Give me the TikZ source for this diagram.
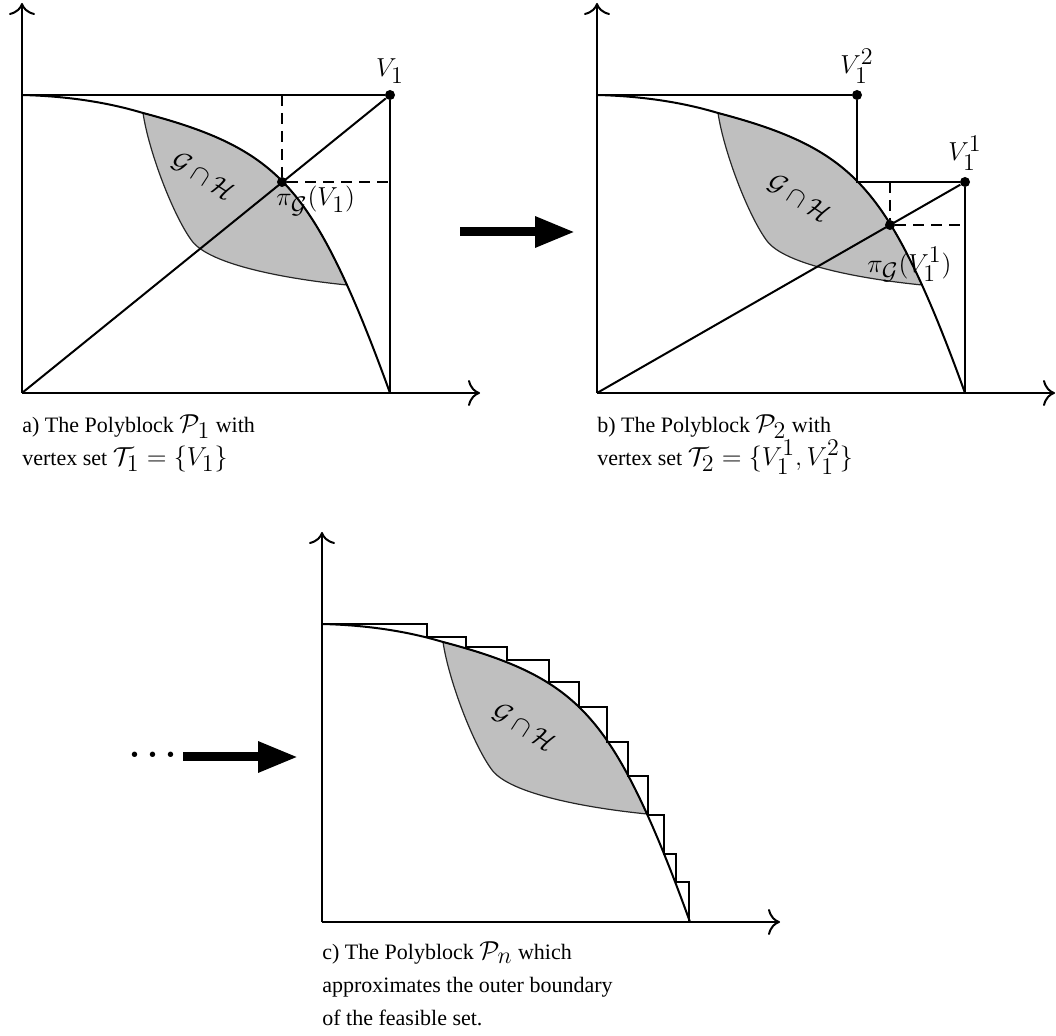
\RequirePackage{fix-cm}
\documentclass[tikz,border=0pt]{standalone}
\usepackage[no-math]{fontspec}
\setmainfont{Liberation Serif}
\usepackage{tikz}
\usetikzlibrary{arrows.meta, positioning}
\DeclareMathSizes{13}{13}{12}{10}
\definecolor{lensgray}{HTML}{BFBFBF}

\tikzset{
    frameline/.style={line width=1pt},
    axisline/.style={line width=1pt, -{Computer Modern Rightarrow[length=6pt, width=13pt]}},
    projline/.style={line width=1pt, dash pattern=on 5.5pt off 3.5pt},
    lensfill/.style={fill=lensgray, draw=black!85, line width=0.6pt},
    vtx/.style={circle, fill, inner sep=0pt, minimum size=5pt},
    mathlbl/.style={font=\fontsize{13}{15}\selectfont, inner sep=0pt},
    captxt/.style={font=\fontsize{11}{16.5}\selectfont, align=left, anchor=north west, inner sep=0pt},
    bigarrow/.style={line width=4.5pt, -{Triangle[length=20pt, width=14.5pt]}}
}

% math inside the captions is set larger than the text
\newcommand{\mth}[1]{{\fontsize{13}{16.5}\selectfont$#1$}}

% Axes, outer boundary of G and the shaded set G cap H of one panel
% #1: name prefix, #2: position of the G cap H label
\newcommand{\feasset}[2]{%
    % shaded intersection
    \filldraw[lensfill] (121,280) .. controls (235,250) and (275,218) .. (325,108)
        .. controls (265,114) and (188,128) .. (170,152)
        .. controls (152,176) and (127,240) .. (121,280) -- cycle;
    \node[mathlbl, rotate=-33] (#1-gh) at (#2) {$\mathcal{G}\cap\mathcal{H}$};
    % outer boundary
    \draw[frameline] (0,298) .. controls (40,297) and (81,292) .. (121,280)
        .. controls (235,250) and (275,218) .. (325,108)
        .. controls (340,75) and (355,36) .. (368,0);
    % axes
    \coordinate (#1-O) at (0,0);
    \draw[axisline] (#1-O) -- (458,0);
    \draw[axisline] (#1-O) -- (0,390);
}

\begin{document}
\begin{tikzpicture}[x=0.5pt, y=0.5pt]

% 1 unit = one pixel of the sketch, origin bottom left
\useasboundingbox (0,0) rectangle (1056,1035);

% a) first polyblock
\begin{scope}[shift={(22,642)}]
    \feasset{a}{181,216}
    \node[vtx] (a-V1) at (368,298) {};
    \node[vtx] (a-pi) at (260,211) {};
    \draw[frameline] (0,298) -- (a-V1) -- (368,0);
    \draw[frameline] (a-O) -- (a-V1);
    \draw[projline] (260,298) -- (a-pi) -- (368,211);
    \node[mathlbl, above=3pt of a-V1] (a-V1lbl) {$V_1$};
    \node[mathlbl, anchor=north west] (a-pilbl) at ([shift={(-6,-4)}]a-pi.center) {$\pi_{\mathcal{G}}(V_1)$};
    \node[captxt] (a-cap) at (0,-21)
        {a) The Polyblock \mth{\mathcal{P}_1} with\\vertex set \mth{\mathcal{T}_1 = \{V_1\}}};
\end{scope}

% b) second polyblock
\begin{scope}[shift={(597,642)}]
    \feasset{b}{202,194}
    \node[vtx] (b-V2) at (260,298) {};
    \node[vtx] (b-V1) at (368,211) {};
    \node[vtx] (b-pi) at (293,168) {};
    \draw[frameline] (0,298) -- (b-V2) -- (260,211) -- (b-V1) -- (368,0);
    \draw[frameline] (b-O) -- (b-V1);
    \draw[projline] (293,211) -- (b-pi) -- (368,168);
    \node[mathlbl, above=3pt of b-V2] (b-V2lbl) {$V_1^2$};
    \node[mathlbl, above=3pt of b-V1] (b-V1lbl) {$V_1^1$};
    \node[mathlbl, anchor=north west] (b-pilbl) at ([shift={(-23,-22)}]b-pi.center) {$\pi_{\mathcal{G}}(V_1^1)$};
    \node[captxt] (b-cap) at (0,-21)
        {b) The Polyblock \mth{\mathcal{P}_2} with\\vertex set \mth{\mathcal{T}_2 = \{V_1^1, V_1^2\}}};
\end{scope}

% c) polyblock after n steps
\begin{scope}[shift={(322,113)}]
    \feasset{c}{202,194}
    \draw[frameline] (0,298) \foreach \sx/\sy in {105/285, 144/275, 185/262, 227/240, 257/215,
        285/180, 306/146, 326/107, 342/68, 354/40, 367/0} { -| (\sx,\sy) };
    \node[captxt] (c-cap) at (0,-19)
        {c) The Polyblock \mth{\mathcal{P}_n} which\\approximates the outer boundary\\of the feasible set.};
\end{scope}

% arrows between the panels
\coordinate (ab-s) at (460,803);
\coordinate (ab-e) at (575,803);
\draw[bigarrow] (ab-s) -- (ab-e);
\node[font=\LARGE\boldmath] (dots) at (153,280) {$\cdots$};
\coordinate (bc-s) at (183,278);
\coordinate (bc-e) at (298,278);
\draw[bigarrow] (bc-s) -- (bc-e);

\end{tikzpicture}
\end{document}
